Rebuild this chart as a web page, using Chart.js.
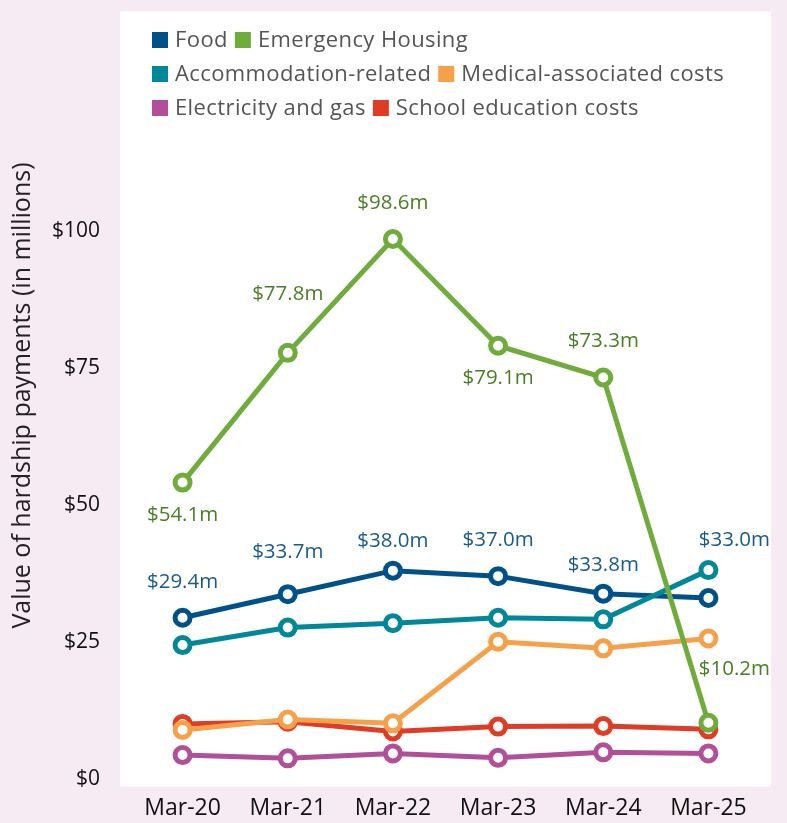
<!DOCTYPE html>
<html><head><meta charset="utf-8">
<script src="https://cdn.jsdelivr.net/npm/chart.js@4"></script>
<style>html,body{margin:0;padding:0;background:#f6eaf3;overflow:hidden}</style>
</head><body>
<canvas id="c" width="787" height="823"></canvas>
<script>
const categories = ['Mar-20', 'Mar-21', 'Mar-22', 'Mar-23', 'Mar-24', 'Mar-25'];
const seriesNames = ['Food', 'Emergency Housing', 'Accommodation-related', 'Medical-associated costs', 'Electricity and gas', 'School education costs'];
const food = [29.4, 33.7, 38.0, 37.0, 33.8, 33.0];
const emergencyHousing = [54.1, 77.8, 98.6, 79.1, 73.3, 10.2];
const accommodation = [24.4, 27.6, 28.4, 29.4, 29.1, 38.1];
const medical = [8.9, 10.8, 10.1, 25.0, 23.8, 25.6];
const electricity = [4.3, 3.7, 4.6, 3.8, 4.8, 4.6];
const school = [10.0, 10.4, 8.6, 9.5, 9.6, 9.0];
const yTickValues = [0, 25, 50, 75, 100];
const yTitle = 'Value of hardship payments (in millions)';

const colors = ['#00518a', '#6fac3b', '#00889a', '#f6a14a', '#b24f99', '#e03c25'];
const drawOrder = [4, 0, 3, 1, 5, 2];
const seriesData = [food, emergencyHousing, accommodation, medical, electricity, school];

const numFont = '"Open Sans", sans-serif';

const bgPlugin = {
  id: 'bg',
  beforeDraw(chart) {
    const {ctx, chartArea: a} = chart;
    ctx.save();
    ctx.fillStyle = '#f6eaf3';
    ctx.fillRect(0, 0, chart.width, chart.height);
    ctx.fillStyle = '#ffffff';
    ctx.fillRect(a.left - 10, a.top - 1, (a.right - a.left) + 20, (a.bottom - a.top) + 9);
    ctx.restore();
  }
};

const legendPlugin = {
  id: 'customLegend',
  afterDraw(chart, args, opts) {
    const ctx = chart.ctx;
    ctx.save();
    ctx.font = opts.font;
    if ('letterSpacing' in ctx) ctx.letterSpacing = opts.letterSpacing;
    ctx.textBaseline = 'middle';
    ctx.textAlign = 'left';
    opts.rows.forEach((row, r) => {
      let x = opts.x;
      const y = opts.y + r * opts.rowGap;
      row.forEach(idx => {
        const ds = chart.data.datasets[idx];
        ctx.fillStyle = ds.borderColor;
        ctx.fillRect(x, y - opts.box / 2, opts.box, opts.box);
        x += opts.box + opts.textGap;
        ctx.fillStyle = opts.color;
        ctx.fillText(ds.label, x, y + 1);
        x += ctx.measureText(ds.label).width + opts.itemGap;
      });
    });
    ctx.restore();
  }
};

const valueLabelPlugin = {
  id: 'valueLabels',
  afterDatasetsDraw(chart, args, opts) {
    const ctx = chart.ctx;
    ctx.save();
    ctx.font = opts.font;
    ctx.textAlign = 'center';
    ctx.textBaseline = 'middle';
    opts.items.forEach(item => {
      const meta = chart.getDatasetMeta(item.datasetIndex);
      const values = chart.data.datasets[item.datasetIndex].data;
      ctx.fillStyle = item.color;
      meta.data.forEach((pt, i) => {
        ctx.fillText('$' + values[i].toFixed(1) + 'm', pt.x + item.dx[i], pt.y + item.dy[i]);
      });
    });
    ctx.restore();
  }
};

const datasets = seriesNames.map((name, i) => ({
  label: name,
  data: seriesData[i],
  borderColor: colors[i],
  backgroundColor: colors[i],
  pointBackgroundColor: '#ffffff',
  pointBorderColor: colors[i],
  pointBorderWidth: 5,
  pointRadius: 7.5,
  borderWidth: 5,
  tension: 0,
  order: drawOrder[i]
}));

new Chart(document.getElementById('c'), {
  type: 'line',
  data: { labels: categories, datasets },
  plugins: [bgPlugin, legendPlugin, valueLabelPlugin],
  options: {
    responsive: false,
    animation: false,
    devicePixelRatio: 1,
    layout: { padding: { top: 11, right: 26, left: 0, bottom: 0 } },
    plugins: {
      legend: { display: false },
      tooltip: { enabled: false },
      customLegend: {
        font: '22px "Open Sans", sans-serif',
        letterSpacing: '0.4px',
        color: '#555555',
        rows: [[0, 1], [2, 3], [4, 5]],
        x: 152, y: 40, rowGap: 34, box: 16, textGap: 7, itemGap: 7
      },
      valueLabels: {
        font: '20.5px ' + numFont,
        items: [
          { datasetIndex: 0, color: '#1a5a8a', dx: [0, 0, 0, 0, 0, 26], dy: [-36, -42, -30, -36, -28, -58] },
          { datasetIndex: 1, color: '#4b7d25', dx: [0, 0, 0, 0, 0, 26], dy: [33, -59, -36, 32, -36, -54] }
        ]
      }
    },
    scales: {
      x: {
        offset: true,
        grid: { display: false, drawTicks: false },
        border: { display: false },
        ticks: { color: '#111', font: { family: numFont, size: 23 }, padding: 16, maxRotation: 0 },
        afterFit(scale) { scale.height = 44.4; scale.paddingLeft = 0; scale.paddingRight = 0; }
      },
      y: {
        min: 0, max: 140,
        grid: { display: false, drawTicks: false },
        border: { display: false },
        afterBuildTicks(scale) { scale.ticks = yTickValues.map(v => ({ value: v })); },
        ticks: {
          color: '#111', font: { family: numFont, size: 21 }, padding: 30,
          callback: v => '$' + v
        },
        title: {
          display: true, text: yTitle, color: '#222',
          font: { family: numFont, size: 25 }, padding: { top: 8, bottom: 0 }
        },
        afterFit(scale) { scale.width = 130; scale.paddingTop = 0; scale.paddingBottom = 0; }
      }
    }
  }
});
</script>
</body></html>
